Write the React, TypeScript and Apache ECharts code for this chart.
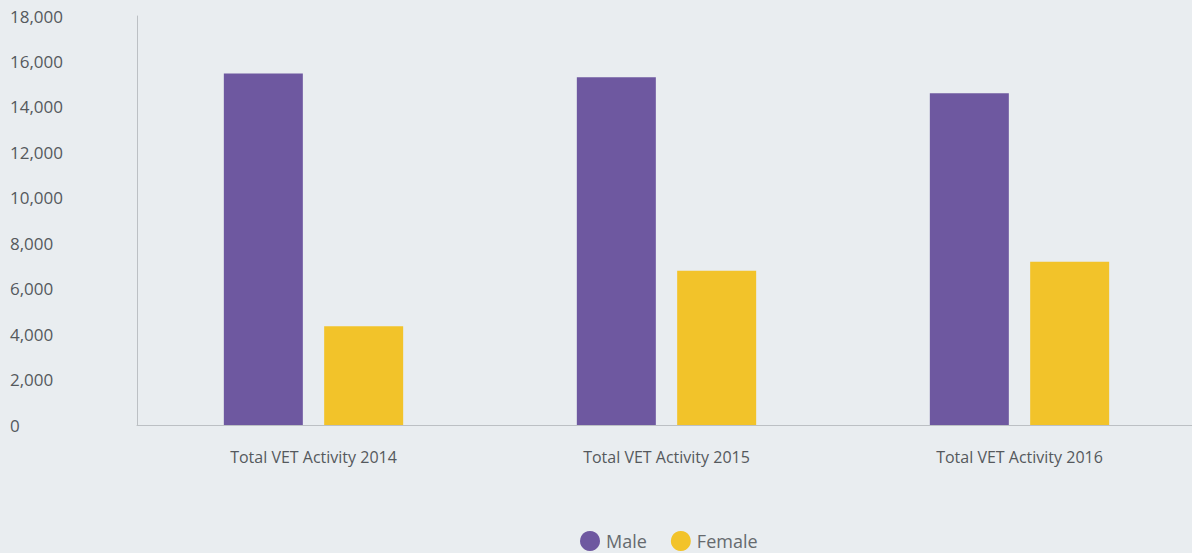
import React, { useEffect, useRef } from "react";
import * as echarts from "echarts";

const categories = ["Total VET Activity 2014", "Total VET Activity 2015", "Total VET Activity 2016"];
const maleValues = [15470, 15300, 14600];
const femaleValues = [4350, 6790, 7180];
const seriesNames = ["Male", "Female"];

const FONT = "'Open Sans', sans-serif";

export default function App() {
  const ref = useRef<HTMLDivElement>(null);
  useEffect(() => {
    if (!ref.current) return;
    const chart = echarts.init(ref.current, undefined, { renderer: "svg" });
    chart.setOption({
      animation: false,
      backgroundColor: "#e9edf0",
      textStyle: { fontFamily: FONT },
      grid: { left: 137, right: 0, top: 16, bottom: 128, containLabel: false },
      legend: {
        data: seriesNames,
        top: 531,
        left: 580,
        padding: 0,
        icon: "circle",
        itemWidth: 20,
        itemHeight: 20,
        itemGap: 24,
        textStyle: { fontSize: 18, color: "#666a6e", fontFamily: FONT, padding: [0, 0, 0, 1] },
      },
      xAxis: {
        type: "category",
        data: categories,
        axisLine: { show: true, lineStyle: { color: "#bcc0c4", width: 1 } },
        axisTick: { show: false },
        axisLabel: { color: "#55595d", fontSize: 16, margin: 24, fontFamily: FONT },
      },
      yAxis: {
        type: "value",
        min: 0,
        max: 18000,
        interval: 2000,
        axisLine: { show: true, lineStyle: { color: "#bcc0c4", width: 1 } },
        axisTick: { show: false },
        splitLine: { show: false },
        axisLabel: {
          color: "#55595d",
          fontSize: 17,
          fontFamily: FONT,
          align: "left",
          margin: 127,
          padding: [5, 0, 0, 0],
          formatter: (v: number) => v.toLocaleString("en-US"),
        },
      },
      series: [
        {
          name: seriesNames[0],
          type: "bar",
          data: maleValues,
          barWidth: 79,
          barGap: "27%",
          itemStyle: { color: "#6e58a0" },
        },
        {
          name: seriesNames[1],
          type: "bar",
          data: femaleValues,
          barWidth: 79,
          itemStyle: { color: "#f2c32a" },
        },
      ],
    });
    return () => chart.dispose();
  }, []);
  return (
    <div style={{ position: "fixed", left: 0, top: 0, width: 1192, height: 553, overflow: "hidden" }}>
      <div ref={ref} style={{ width: 1196, height: 553 }} />
    </div>
  );
}
